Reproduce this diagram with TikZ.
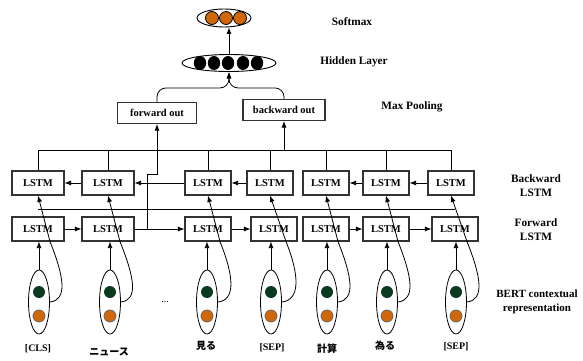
\documentclass[tikz,border=0pt]{standalone}
\usepackage{fontspec}
\setmainfont{Liberation Serif}
\newfontfamily\jpfont{Noto Sans CJK JP}
\usetikzlibrary{arrows.meta, shapes.geometric, calc}

\definecolor{beadgreen}{HTML}{0B3A1E}
\definecolor{beadorange}{HTML}{D0680A}

\tikzset{
  lstm/.style={draw=black!80, line width=1.1pt, minimum width=46pt, minimum height=24pt,
    inner sep=0pt, font=\fontsize{10.5}{12}\selectfont\bfseries},
  outbox/.style={draw=black!80, line width=1.1pt, minimum height=21pt, inner sep=0pt,
    font=\fontsize{10.5}{12}\selectfont\bfseries},
  bert/.style={draw, ellipse, minimum width=21pt, minimum height=64pt, inner sep=0pt, line width=0.8pt},
  layer/.style={draw, ellipse, inner sep=0pt, line width=0.9pt},
  lbl/.style={font=\fontsize{11.3}{14}\selectfont\bfseries, align=center},
  tok/.style={font=\fontsize{10}{12}\selectfont\bfseries},
  arr/.style={-{Latex[length=6.5pt, width=5pt]}, line width=0.8pt},
}

\begin{document}
\begin{tikzpicture}[x=1pt, y=1pt, line width=0.8pt]
    \useasboundingbox (0,0) rectangle (583,-361);

    % softmax and hidden layer
    \node[layer, minimum width=54pt, minimum height=18pt] (soft) at (224,-18) {};
    \filldraw[fill=beadorange] (212,-18) circle (6.5pt);
    \filldraw[fill=beadorange] (226,-18) circle (6.5pt);
    \filldraw[fill=beadorange] (240,-18) circle (6.5pt);

    \node[layer, minimum width=94pt, minimum height=17pt] (hid) at (229,-63) {};
    \fill[black] (200,-63) ellipse (6.2pt and 7pt);
    \fill[black] (214,-63) ellipse (6.2pt and 7pt);
    \fill[black] (228,-63) ellipse (6.2pt and 7pt);
    \fill[black] (243,-63) ellipse (6.2pt and 7pt);
    \fill[black] (257,-63) ellipse (6.2pt and 7pt);

    \draw[arr] (hid.north) -- (hid.north |- soft.south);

    % max pooling
    \node[outbox, minimum width=79pt] (fo) at (157,-113) {forward out};
    \node[outbox, minimum width=82pt] (bo) at (284,-110) {backward out};

    \draw[arr, rounded corners=9pt] (fo.north) |- ([yshift=-16pt]hid.south) -- (hid.south);
    \draw[arr, rounded corners=9pt] (bo.north) |- ([yshift=-16pt]hid.south) -- (hid.south);

    % backward lstm
    \node[lstm, minimum width=52pt] (b1) at (38,-183) {LSTM};
    \node[lstm, minimum width=52pt] (b2) at (108,-183) {LSTM};
    \node[lstm] (b3) at (208,-183) {LSTM};
    \node[lstm] (b4) at (270,-183) {LSTM};
    \node[lstm] (b5) at (326,-183) {LSTM};
    \node[lstm] (b6) at (386,-183) {LSTM};
    \node[lstm] (b7) at (451,-183) {LSTM};

    % forward lstm
    \node[lstm, minimum width=52pt] (f1) at (38,-229) {LSTM};
    \node[lstm, minimum width=52pt] (f2) at (108,-229) {LSTM};
    \node[lstm] (f3) at (208,-229) {LSTM};
    \node[lstm] (f4) at (274,-229) {LSTM};
    \node[lstm] (f5) at (326,-229) {LSTM};
    \node[lstm] (f6) at (386,-229) {LSTM};
    \node[lstm] (f7) at (455,-229) {LSTM};

    \draw[arr] (b2) -- (b1);
    \draw[arr] (b3) -- (b2);
    \draw[arr] (b4) -- (b3);
    \draw[arr] (b6) -- (b5);
    \draw[arr] (b7) -- (b6);

    \draw[arr] (f1) -- (f2);
    \draw[arr] (f2) -- (f3);
    \draw[arr] (f3) -- (f4);
    \draw[arr] (f5) -- (f6);
    \draw[arr] (f6) -- (f7);

    % bus to the pooling boxes
    \coordinate (bus) at (0,-150);
    \coordinate (midline) at (0,-209);
    \draw (b1.north |- bus) -- (b7.north |- bus);
    \draw (b1.north) -- (b1.north |- bus);
    \draw (b2.north) -- (b2.north |- bus);
    \draw (b3.north) -- (b3.north |- bus);
    \draw (b4.north) -- (b4.north |- bus);
    \draw (b5.north) -- (b5.north |- bus);
    \draw (b6.north) -- (b6.north |- bus);
    \draw (b7.north) -- (b7.north |- bus);
    \draw[arr] (bo.south |- bus) -- (bo.south);
    \draw[arr] ([xshift=13pt]f2.east) |- ([yshift=-50pt]fo.south) -- (fo.south);
    \draw (b1.south |- midline) -- (f7.south |- midline);

    % bert representation
    \node[bert] (e1) at (39,-302) {};
    \node[bert] (e2) at (110,-302) {};
    \node[bert] (e3) at (207,-302) {};
    \node[bert] (e4) at (271,-302) {};
    \node[bert] (e5) at (327,-302) {};
    \node[bert] (e6) at (387,-302) {};
    \node[bert] (e7) at (456,-302) {};

    \fill[beadgreen] (39,-292) circle (6pt);   \filldraw[fill=beadorange, draw=black!60] (39,-316) circle (6pt);
    \fill[beadgreen] (110,-292) circle (6pt);  \filldraw[fill=beadorange, draw=black!60] (110,-316) circle (6pt);
    \fill[beadgreen] (207,-292) circle (6pt);  \filldraw[fill=beadorange, draw=black!60] (207,-316) circle (6pt);
    \fill[beadgreen] (271,-292) circle (6pt);  \filldraw[fill=beadorange, draw=black!60] (271,-316) circle (6pt);
    \fill[beadgreen] (327,-292) circle (6pt);  \filldraw[fill=beadorange, draw=black!60] (327,-316) circle (6pt);
    \fill[beadgreen] (387,-292) circle (6pt);  \filldraw[fill=beadorange, draw=black!60] (387,-316) circle (6pt);
    \fill[beadgreen] (456,-292) circle (6pt);  \filldraw[fill=beadorange, draw=black!60] (456,-316) circle (6pt);

    \draw[arr] (e1.north) -- (e1.north |- f1.south);
    \draw[arr] (e2.north) -- (e2.north |- f2.south);
    \draw[arr] (e3.north) -- (e3.north |- f3.south);
    \draw[arr] (e4.north) -- (e4.north |- f4.south);
    \draw[arr] (e5.north) -- (e5.north |- f5.south);
    \draw[arr] (e6.north) -- (e6.north |- f6.south);
    \draw[arr] (e7.north) -- (e7.north |- f7.south);

    \draw[arr] (e1.east) .. controls +(18,2) and +(14,-35) .. ([xshift=12pt]f1.south) -- (b1.south);
    \draw[arr] (e2.east) .. controls +(18,2) and +(14,-35) .. ([xshift=12pt]f2.south) -- (b2.south);
    \draw[arr] (e3.east) .. controls +(18,2) and +(14,-35) .. ([xshift=12pt]f3.south) -- (b3.south);
    \draw[arr] (e4.east) .. controls +(18,2) and +(14,-35) .. ([xshift=12pt]f4.south) -- (b4.south);
    \draw[arr] (e5.east) .. controls +(18,2) and +(14,-35) .. ([xshift=12pt]f5.south) -- (b5.south);
    \draw[arr] (e6.east) .. controls +(18,2) and +(14,-35) .. ([xshift=12pt]f6.south) -- (b6.south);
    \draw[arr] (e7.east) .. controls +(18,2) and +(14,-35) .. ([xshift=12pt]f7.south) -- (b7.south);

    \node[font=\fontsize{10}{10}\selectfont] (dots) at (165,-302) {...};

    % tokens
    \node[tok] (t1) at (38,-349) {[CLS]};
    \node[tok] (t2) at (109,-352) {\jpfont ニュース};
    \node[tok] (t3) at (206,-346) {\jpfont 見る};
    \node[tok] (t4) at (272,-348) {[SEP]};
    \node[tok] (t5) at (327,-349) {\jpfont 計算};
    \node[tok] (t6) at (385,-346) {\jpfont 為る};
    \node[tok] (t7) at (456,-347) {[SEP]};

    % layer names
    \node[lbl] (softlbl) at (352,-22) {Softmax};
    \node[lbl] (hidlbl) at (354,-62) {Hidden Layer};
    \node[lbl] (poollbl) at (412,-107) {Max Pooling};
    \node[lbl] (bwlbl) at (536,-186) {Backward\\LSTM};
    \node[lbl] (fwlbl) at (536,-230) {Forward\\LSTM};
    \node[lbl, font=\fontsize{11}{14}\selectfont\bfseries] (bertlbl) at (537,-302) {BERT contextual\\representation};
\end{tikzpicture}
\end{document}
